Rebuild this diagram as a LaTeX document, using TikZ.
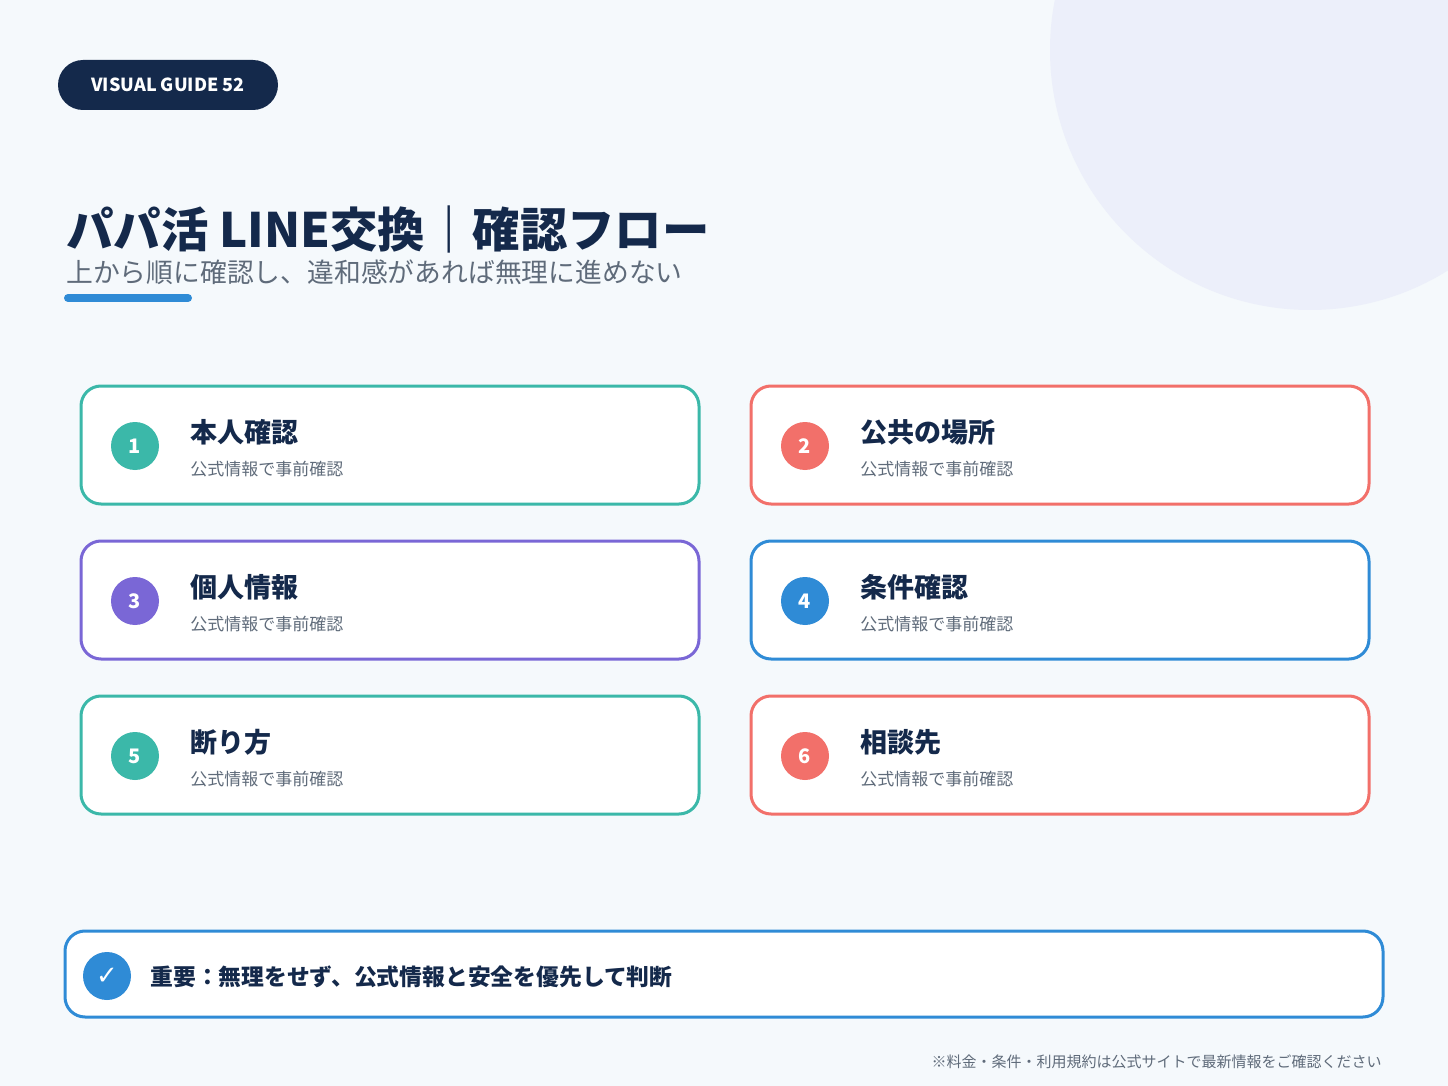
\documentclass[tikz,border=0pt]{standalone}
\usepackage{fontspec}
\setmainfont{Noto Sans CJK JP}
\usetikzlibrary{positioning}
\definecolor{navy}{HTML}{14294B}
\definecolor{teal}{HTML}{3BB8A9}
\definecolor{coral}{HTML}{F2706A}
\definecolor{purple}{HTML}{7A67D6}
\definecolor{blue}{HTML}{2F8BD6}
\definecolor{bg}{HTML}{F5F9FC}
\definecolor{blob}{HTML}{ECEFFA}
\definecolor{greytxt}{HTML}{5F6B7A}
\tikzset{
  card/.style={draw=#1, line width=1.5pt, fill=white, rounded corners=10pt},
  num/.style={circle, fill=#1, minimum size=24pt, inner sep=0pt, text=white, font=\fontsize{10}{12}\selectfont\bfseries},
  head/.style={anchor=west, text=navy, font=\fontsize{13.5}{16}\selectfont\bfseries, inner sep=0pt},
  sub/.style={anchor=west, text=greytxt, font=\fontsize{8.5}{10}\selectfont, inner sep=0pt}
}
\begin{document}
\begin{tikzpicture}[x=0.5pt,y=-0.5pt]
\fill[bg] (0,0) rectangle (1448,1086);
\useasboundingbox (0,0) rectangle (1448,1086);
\begin{scope}
\clip (0,0) rectangle (1448,1086);
\fill[blob] (1310,50) circle[radius=260];
\end{scope}
% badge
\node (badge) [fill=navy, rounded corners=12.5pt, minimum width=110pt, minimum height=25pt, text=white,
  font=\fontsize{9}{11}\selectfont\bfseries] at (168,85) {VISUAL GUIDE 52};
% title
\node (title) [anchor=base west, inner sep=0pt, text=navy, font=\fontsize{23.7}{28}\selectfont\bfseries]
  at (66,248) {パパ活 LINE交換｜確認フロー};
\node (subtitle) [anchor=base west, inner sep=0pt, text=greytxt, font=\fontsize{13.4}{16}\selectfont]
  at (66,283) {上から順に確認し、違和感があれば無理に進めない};
\draw[blue, line width=4pt, line cap=round] (68,298) -- (188,298);
% cards
\foreach \cx/\cy/\c/\n/\t in {81/386/teal/1/本人確認, 751/386/coral/2/公共の場所,
    81/541/purple/3/個人情報, 751/541/blue/4/条件確認,
    81/696/teal/5/断り方, 751/696/coral/6/相談先}{
  \draw[card=\c] (\cx,\cy) rectangle ++(618,118);
  \node (n\n) [num=\c] at (\cx+54,\cy+60) {\n};
  \node (h\n) [head] at (\cx+109,\cy+46) {\t};
  \node (s\n) [sub] at (\cx+109,\cy+83) {公式情報で事前確認};
}
% bottom note
\draw[card=blue] (65,931) rectangle (1383,1017);
\node (check) [num=blue, font=\fontsize{13}{15}\selectfont] at (107,976) {\fontspec{DejaVu Sans}✓};
\node (note) [head, font=\fontsize{11.4}{13}\selectfont\bfseries] at (150,977)
  {重要：無理をせず、公式情報と安全を優先して判断};
\node (foot) [anchor=east, inner sep=0pt, text=greytxt, font=\fontsize{7.5}{9}\selectfont]
  at (1382,1062) {※料金・条件・利用規約は公式サイトで最新情報をご確認ください};
\end{tikzpicture}
\end{document}
